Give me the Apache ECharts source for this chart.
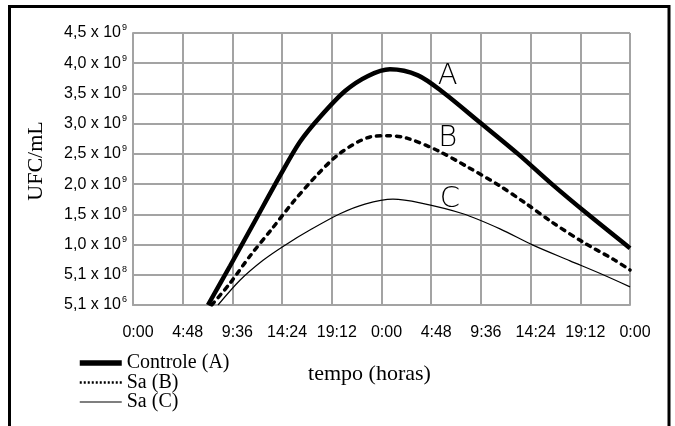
<!DOCTYPE html>
<html>
<head>
<meta charset="utf-8">
<script src="https://cdn.jsdelivr.net/npm/echarts@6/dist/echarts.min.js"></script>
<style>
html,body{margin:0;padding:0;background:#fff;}
#chart{width:675px;height:426px;}
</style>
</head>
<body>
<div id="chart"></div>
<script>
// ---- data ----
const xTickLabels = ['0:00','4:48','9:36','14:24','19:12','0:00','4:48','9:36','14:24','19:12','0:00'];
const yTickMantissa = ['5,1 x 10','5,1 x 10','1,0 x 10','1,5 x 10','2,0 x 10','2,5 x 10','3,0 x 10','3,5 x 10','4,0 x 10','4,5 x 10'];
const yTickExponent = ['6','8','9','9','9','9','9','9','9','9'];

const seriesNames = ['Controle (A)', 'Sa (B)', 'Sa (C)'];
const curveLetters = ['A', 'B', 'C'];

// hours, value (x 10^9 UFC/mL)
const hoursA = [7.24, 9.37, 11.78, 14.2, 16.13, 18.06, 20.48, 22.7, 24.82, 27.52, 29.94, 33.51, 37.18, 40.46, 43.94, 48];
const valsA  = [0, 0.645, 1.39, 2.14, 2.70, 3.11, 3.54, 3.79, 3.90, 3.80, 3.52, 3.02, 2.50, 2.00, 1.50, 0.94];

const hoursB = [7.6, 9.37, 11.3, 13.42, 15.45, 17.77, 19.99, 22.89, 24.63, 26.46, 29.36, 32.35, 35.25, 37.86, 40.56, 43.46, 46.35, 48];
const valsB  = [0, 0.36, 0.81, 1.26, 1.70, 2.15, 2.51, 2.78, 2.80, 2.76, 2.56, 2.28, 1.99, 1.69, 1.36, 1.04, 0.76, 0.58];

const hoursC = [8.21, 10.33, 12.56, 14.68, 17.29, 19.99, 22.4, 25.11, 27.72, 31.87, 35.44, 38.63, 42.21, 45.4, 48];
const valsC  = [0, 0.41, 0.74, 0.99, 1.26, 1.51, 1.67, 1.75, 1.69, 1.51, 1.26, 0.99, 0.73, 0.50, 0.30];

const letterHours = [30.4, 30.4, 30.6];
const letterVals  = [3.78, 2.76, 1.74];

// ---- chart ----
const zip = (h, v) => h.map((x, i) => [x, v[i]]);
const GRID = '#a3a3a3';

const chart = echarts.init(document.getElementById('chart'), null, {renderer: 'canvas'});

function letterMark(i) {
  return {
    symbol: 'circle', symbolSize: 0, silent: true, animation: false,
    label: {
      show: true, position: 'inside', formatter: curveLetters[i],
      color: '#000', fontFamily: "'DejaVu Sans ExtraLight', 'DejaVu Sans Light', 'DejaVu Sans'",
      fontWeight: 200, fontSize: 29
    },
    data: [{coord: [letterHours[i], letterVals[i]]}]
  };
}

const styles = [
  {width: 4.5, type: 'solid'},
  {width: 3.5, type: [4, 6], cap: 'round'},
  {width: 1.2, type: 'solid'}
];
const legendLineStyles = [
  {color: '#000', width: 5.5, type: 'solid'},
  {color: '#000', width: 2.5, type: [2, 2], cap: 'butt'},
  {color: '#000', width: 1.2, type: 'solid'}
];
const datas = [zip(hoursA, valsA), zip(hoursB, valsB), zip(hoursC, valsC)];

chart.setOption({
  animation: false,
  backgroundColor: '#fff',
  grid: {left: 133, right: 45, top: 33, bottom: 121, containLabel: false},
  legend: {
    orient: 'vertical', left: 77, top: 353, padding: 0,
    itemWidth: 42, itemHeight: 12, itemGap: -0.5,
    data: seriesNames.map((n, i) => ({
      name: n,
      itemStyle: {color: 'rgba(0,0,0,0)', borderColor: 'rgba(0,0,0,0)', borderWidth: 0},
      lineStyle: legendLineStyles[i]
    })),
    textStyle: {fontFamily: 'Liberation Serif', fontSize: 20, color: '#000'}
  },
  xAxis: {
    type: 'value', min: 0, max: 48, interval: 4.8,
    name: 'tempo (horas)', nameLocation: 'middle', nameGap: 58,
    nameTextStyle: {fontFamily: 'Liberation Serif', fontSize: 22, color: '#000', padding: [0, 24, 0, 0]},
    axisLine: {show: true, lineStyle: {color: GRID, width: 2}},
    axisTick: {show: false},
    axisLabel: {
      margin: 20, color: '#000', fontFamily: 'Liberation Sans', fontSize: 16,
      padding: [0, 0, 0, 10],
      formatter: v => xTickLabels[Math.round(v / 4.8)]
    },
    splitLine: {show: true, lineStyle: {color: GRID, width: 2}}
  },
  yAxis: {
    type: 'value', min: 0, max: 4.5, interval: 0.5,
    name: 'UFC/mL', nameLocation: 'middle', nameGap: 86, nameRotate: 90,
    nameTextStyle: {fontFamily: 'Liberation Serif', fontSize: 22, color: '#000', padding: [0, 0, 0, 16]},
    axisLine: {show: true, lineStyle: {color: GRID, width: 2}},
    axisTick: {show: false},
    axisLabel: {
      margin: 6,
      formatter: v => {
        const i = Math.round(v / 0.5);
        return '{m|' + yTickMantissa[i] + '}{e|' + yTickExponent[i] + '}';
      },
      rich: {
        m: {fontFamily: 'Liberation Sans', fontSize: 16, color: '#000', lineHeight: 19},
        e: {fontFamily: 'Liberation Sans', fontSize: 9, color: '#000', verticalAlign: 'top', padding: [0, 0, 0, 1]}
      }
    },
    splitLine: {show: true, lineStyle: {color: GRID, width: 2}}
  },
  graphic: [{
    type: 'rect', silent: true,
    shape: {x: 9.5, y: 6.5, width: 659.5, height: 500},
    style: {fill: 'none', stroke: '#000', lineWidth: 3}
  }],
  series: seriesNames.map((name, i) => ({
    name: name, type: 'line', data: datas[i],
    smooth: 0.3, symbol: 'none',
    lineStyle: Object.assign({color: '#000'}, styles[i]),
    itemStyle: {color: '#000'},
    markPoint: letterMark(i),
    z: 3 - i
  }))
});
</script>
</body>
</html>
